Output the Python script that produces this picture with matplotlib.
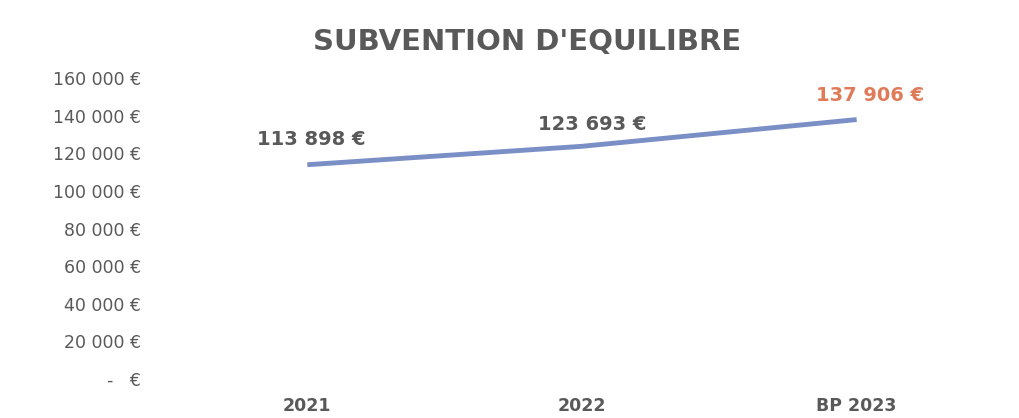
import matplotlib.pyplot as plt
from matplotlib.ticker import FuncFormatter

plt.rcParams['font.family'] = ['DejaVu Sans']

annees = ["2021", "2022", "BP 2023"]
subvention = [113898, 123693, 137906]
etiquettes = ["113 898 €", "123 693 €", "137 906 €"]
couleurs_etiquettes = ["#595959", "#595959", "#e07b5a"]
graduations = [0, 20000, 40000, 60000, 80000, 100000, 120000, 140000, 160000]

gris = "#595959"

def euro(v, pos):
    if v == 0:
        return "-   €"
    return "{:,.0f} €".format(v).replace(",", " ")

fig = plt.figure(figsize=(10.2, 4.18), dpi=100)
ax = fig.add_axes([170/1020, 1-379/418, 824/1020, 301/418])

x = list(range(len(annees)))
ax.plot(x, subvention, color="#7b8fc7", linewidth=3.5, solid_capstyle="butt")

decalages = [(3, 18), (7, 16), (10, 17)]
for i in x:
    ax.annotate(etiquettes[i], (x[i], subvention[i]), xytext=decalages[i],
                textcoords="offset points", ha="center", va="center",
                fontsize=14, fontweight="bold", color=couleurs_etiquettes[i])

ax.set_xlim(-0.5, 2.5)
ax.set_ylim(0, 160000)
ax.set_xticks(x)
ax.set_xticklabels(annees, fontsize=12.5, fontweight="bold", color=gris)
ax.set_yticks(graduations)
ax.yaxis.set_major_formatter(FuncFormatter(euro))
ax.tick_params(axis="y", labelsize=12.5, colors=gris, length=0, pad=21)
ax.tick_params(axis="x", length=0, pad=13)
for s in ax.spines.values():
    s.set_visible(False)

fig.text(527/1020, 1-42/418, "SUBVENTION D'EQUILIBRE", ha="center", va="center",
         fontsize=21, fontweight="bold", color=gris)

fig.savefig("out.png", dpi=100)
